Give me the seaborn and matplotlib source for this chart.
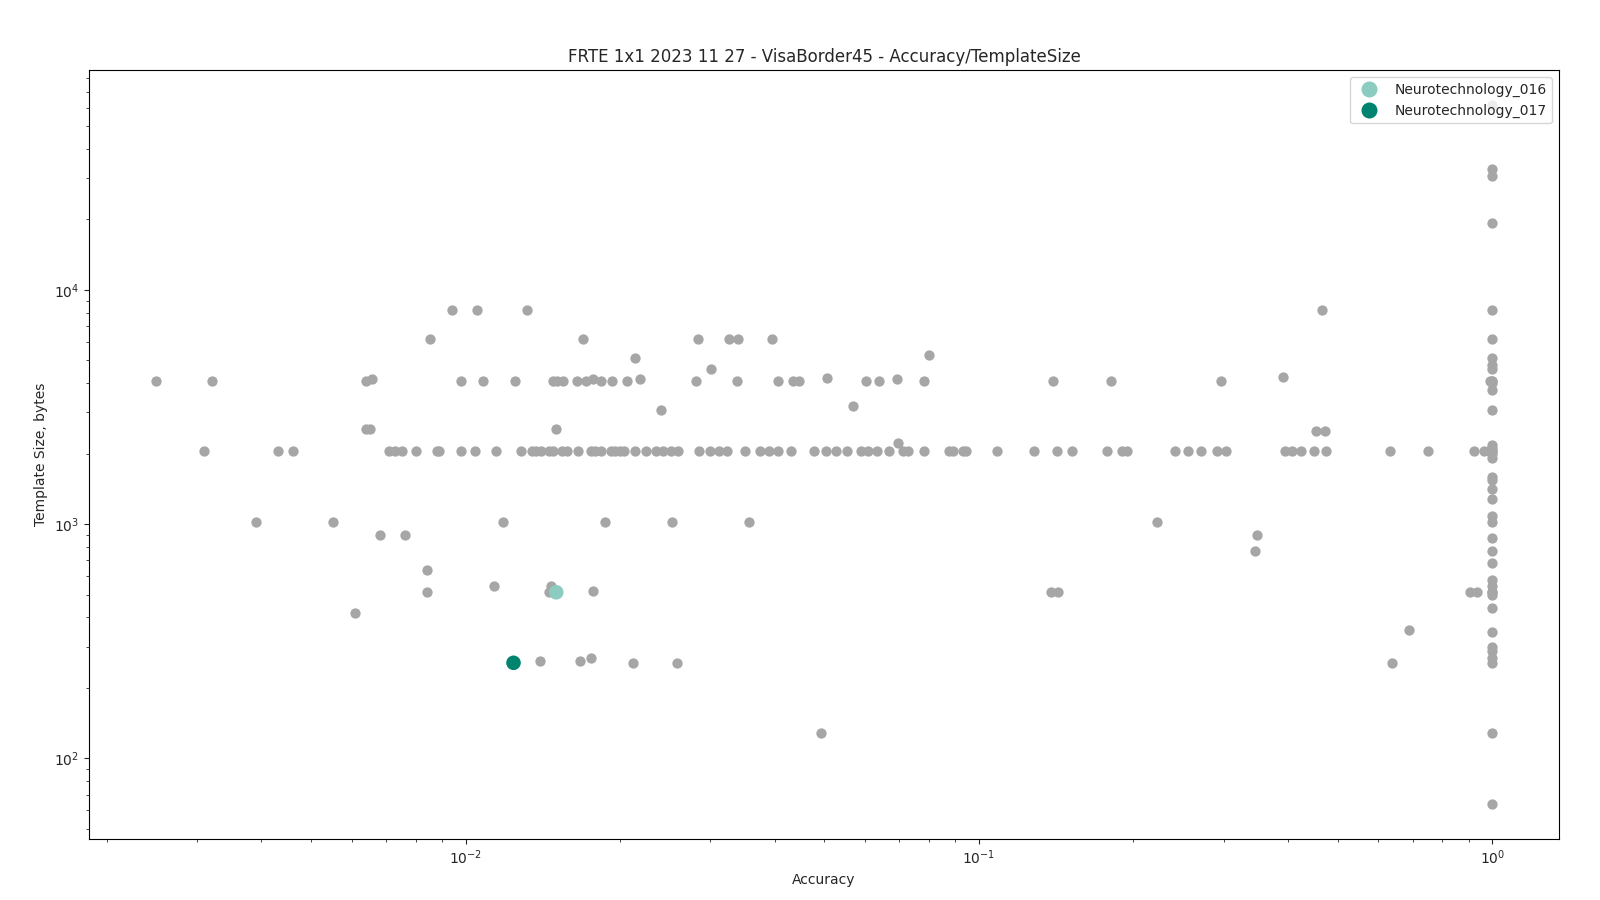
import numpy as np
import pandas as pd
import matplotlib
matplotlib.use("Agg")
import matplotlib.pyplot as plt
import seaborn as sns

# ---------------- data ----------------
TITLE = "FRTE 1x1 2023 11 27 - VisaBorder45 - Accuracy/TemplateSize"

acc_2048 = [0.003091, 0.004307, 0.004607, 0.007107, 0.007298, 0.007520, 0.007993, 0.00880,
            0.00886, 0.009809, 0.01041, 0.01148, 0.01280, 0.01347, 0.01373, 0.01400, 0.01451,
            0.01482, 0.01540, 0.01578, 0.01655, 0.01756, 0.01788, 0.01837, 0.01916, 0.01956,
            0.01995, 0.02040, 0.02134, 0.02248, 0.02354, 0.02430, 0.02515, 0.02592, 0.02854,
            0.02994, 0.03123, 0.03227, 0.03508, 0.03752, 0.03907, 0.04056, 0.04310, 0.04777,
            0.05036, 0.05267, 0.05533, 0.05898, 0.06069, 0.06328, 0.06687, 0.07101, 0.07262,
            0.07824, 0.08730, 0.08911, 0.09295, 0.09430, 0.1085, 0.1281, 0.1420, 0.1519,
            0.1776, 0.1897, 0.1946, 0.2410, 0.2555, 0.2707, 0.2904, 0.3024, 0.3947, 0.4082,
            0.4233, 0.4495, 0.4751, 0.6319, 0.7489, 0.9204, 0.9625, 0.9845]

acc_4096 = [0.002492, 0.003204, 0.006388, 0.00981, 0.01079, 0.01249, 0.01479, 0.01508,
            0.01547, 0.01650, 0.01718, 0.01839, 0.01932, 0.02064, 0.02817, 0.03380, 0.04067,
            0.04338, 0.04469, 0.06032, 0.06385, 0.07809, 0.1395, 0.1806, 0.2961, 0.99]

acc_8192 = [0.009393, 0.01051, 0.01320, 0.4651]
acc_6144 = [0.008513, 0.01690, 0.02842, 0.03255, 0.03390, 0.03959]
acc_1024 = [0.003907, 0.005518, 0.01185, 0.01866, 0.02525, 0.03565, 0.2221]
acc_512 = [0.008404, 0.01455, 0.1380, 0.1425, 0.9042, 0.9333]
acc_256 = [0.02117, 0.02577, 0.6389]

misc_acc = [0.006575, 0.01775, 0.02191, 0.05066, 0.06923, 0.3910, 0.00640, 0.00652,
            0.01503, 0.4527, 0.4720, 0.02139, 0.0800, 0.03012, 0.05689, 0.02407, 0.06966,
            0.006809, 0.007633, 0.3477, 0.3446, 0.008404, 0.006102, 0.01137, 0.01468,
            0.01771, 0.01396, 0.01669, 0.01755, 0.04933, 0.6871]
misc_size = [4160, 4160, 4150, 4224, 4180, 4250, 2560, 2560,
             2560, 2496, 2496, 5120, 5250, 4608, 3200, 3072, 2224,
             900, 896, 896, 768, 640, 416, 544, 544,
             520, 260, 260, 268, 128, 352]

# templates of algorithms with accuracy = 1.0
perfect_size = [61440, 32768, 30720, 19200, 8192, 6144, 5120, 4800, 4608, 4096, 4096, 4000,
                3740, 3072, 2176, 2112, 2048, 2048, 1984, 1920, 1588, 1536, 1408, 1280,
                1088, 1024, 870, 768, 680, 576, 544, 512, 512, 500, 440, 348, 300, 288,
                268, 256, 128, 64]

highlight_names = ["Neurotechnology_016", "Neurotechnology_017"]
highlight_acc = [0.01502, 0.01240]
highlight_size = [512, 256]
highlight_colors = ["#8ccbc0", "#00846f"]

# ---------------- assemble ----------------
acc = (acc_2048 + acc_4096 + acc_8192 + acc_6144 + acc_1024 + acc_512 + acc_256
       + misc_acc + [1.0] * len(perfect_size))
size = ([2048] * len(acc_2048) + [4096] * len(acc_4096) + [8192] * len(acc_8192)
        + [6144] * len(acc_6144) + [1024] * len(acc_1024) + [512] * len(acc_512)
        + [256] * len(acc_256) + misc_size + perfect_size)
others = pd.DataFrame({"Accuracy": acc, "Template Size, bytes": size})
hl = pd.DataFrame({"Accuracy": highlight_acc, "Template Size, bytes": highlight_size,
                   "Algorithm": highlight_names})

# ---------------- plot ----------------
sns.set_style("ticks")
plt.rcParams["font.family"] = ["DejaVu Sans"]
fig, ax = plt.subplots(figsize=(16, 9), dpi=100)
fig.subplots_adjust(left=0.0556, right=0.9744, bottom=0.068, top=0.922)

sns.scatterplot(data=others, x="Accuracy", y="Template Size, bytes", color="#a6a6a6",
                s=55, linewidth=0, ax=ax, legend=False, zorder=2)
sns.scatterplot(data=hl, x="Accuracy", y="Template Size, bytes", hue="Algorithm",
                palette=dict(zip(highlight_names, highlight_colors)), s=110,
                linewidth=0, ax=ax, zorder=3)

ax.set_xscale("log")
ax.set_yscale("log")
ax.set_title(TITLE, fontsize=12)
ax.set_xlabel("Accuracy", fontsize=10)
ax.set_ylabel("Template Size, bytes", fontsize=10)
for sp in ax.spines.values():
    sp.set_visible(True)
    sp.set_color("black")
    sp.set_linewidth(0.8)
ax.tick_params(axis="both", which="both", direction="out", labelsize=10)
leg = ax.legend(loc="upper right", title=None, markerscale=1.1, fontsize=10)
leg.get_frame().set_alpha(0.8)

fig.savefig("out.png", dpi=100)
